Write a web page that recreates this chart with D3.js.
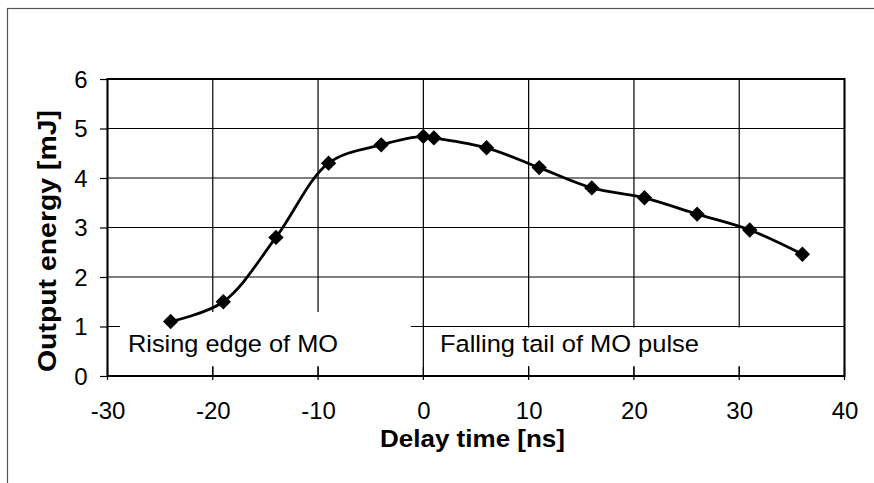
<!DOCTYPE html>
<html>
<head>
<meta charset="utf-8">
<script src="https://cdn.jsdelivr.net/npm/d3@7"></script>
<style>
  html, body { margin: 0; padding: 0; background: #fff; }
  svg { display: block; }
  text { font-family: "Liberation Sans", Arial, sans-serif; fill: #000; }
</style>
</head>
<body>
<svg id="chart" width="874" height="483"></svg>
<script>
// ---- data ----
const delayTimes = [-24, -19, -14, -9, -4, 0, 1, 6, 11, 16, 21, 26, 31, 36];
const outputEnergy = [1.10, 1.50, 2.80, 4.30, 4.67, 4.84, 4.81, 4.61, 4.21, 3.80, 3.60, 3.27, 2.95, 2.46];
const xTicks = [-30, -20, -10, 0, 10, 20, 30, 40];
const yTicks = [0, 1, 2, 3, 4, 5, 6];
const xTitle = "Delay time [ns]";
const yTitle = "Output energy [mJ]";
const annotations = ["Rising edge of MO", "Falling tail of MO pulse"];

// ---- layout ----
const svg = d3.select("#chart");
const L = 107.5, R = 844.5, T = 79, B = 376;
const x = d3.scaleLinear().domain([-30, 40]).range([L, R]);
const y = d3.scaleLinear().domain([0, 6]).range([B, T]);

// outer frame
svg.append("rect").attr("x", 7.5).attr("y", 8.5).attr("width", 900).attr("height", 500)
  .attr("fill", "none").attr("stroke", "#555").attr("stroke-width", 1.2);

// gridlines
const g = svg.append("g");
g.selectAll("line.hg").data(yTicks).join("line")
  .attr("x1", L).attr("x2", R).attr("y1", d => y(d)).attr("y2", d => y(d))
  .attr("stroke", "#000").attr("stroke-width", 1.2);
g.selectAll("line.vg").data(xTicks).join("line")
  .attr("x1", d => x(d)).attr("x2", d => x(d)).attr("y1", T).attr("y2", B)
  .attr("stroke", "#000").attr("stroke-width", 1.2);

// white annotation boxes covering gridlines
svg.append("rect").attr("x", 120).attr("y", 312).attr("width", x(0) - 12.5 - 120).attr("height", 54)
  .attr("fill", "#fff");
svg.append("rect").attr("x", x(0) + 1).attr("y", y(1) + 1).attr("width", R - 1 - (x(0) + 1)).attr("height", 366 - y(1) - 1)
  .attr("fill", "#fff");

// axes with D3
const fmt = d => String(d);
const xAxis = d3.axisBottom(x).tickValues(xTicks).tickSize(0).tickFormat(fmt);
const yAxis = d3.axisLeft(y).tickValues(yTicks).tickSize(7.5).tickFormat(fmt);

const gx = svg.append("g").attr("transform", `translate(0,${B})`).call(xAxis);
gx.select(".domain").remove();
gx.selectAll(".tick text").attr("font-size", 24).attr("dy", null).attr("y", 43)
  .attr("font-family", "Liberation Sans, Arial, sans-serif").attr("fill", "#000");
// crossing ticks for x
svg.append("g").selectAll("line").data(xTicks).join("line")
  .attr("x1", d => x(d)).attr("x2", d => x(d)).attr("y1", B - 9).attr("y2", B + 4)
  .attr("stroke", "#000").attr("stroke-width", 1.2);

const gy = svg.append("g").attr("transform", `translate(${L},0)`).call(yAxis);
gy.select(".domain").remove();
gy.selectAll(".tick line").attr("stroke", "#000").attr("stroke-width", 1.2);
gy.selectAll(".tick text").attr("font-size", 24).attr("x", -20).attr("dy", "0.35em")
  .attr("font-family", "Liberation Sans, Arial, sans-serif").attr("fill", "#000");

// plot border
svg.append("rect").attr("x", L).attr("y", T).attr("width", R - L).attr("height", B - T)
  .attr("fill", "none").attr("stroke", "#000").attr("stroke-width", 2);

// data line
const pts = delayTimes.map((t, i) => [t, outputEnergy[i]]);
const line = d3.line().x(d => x(d[0])).y(d => y(d[1])).curve(d3.curveCatmullRom.alpha(0.5));
svg.append("path").datum(pts).attr("d", line)
  .attr("fill", "none").attr("stroke", "#000").attr("stroke-width", 2.8);

// diamond markers
const sym = d3.symbol().type(d3.symbolSquare).size(118);
svg.append("g").selectAll("path").data(pts).join("path")
  .attr("d", sym)
  .attr("transform", d => `translate(${x(d[0])},${y(d[1])}) rotate(45)`)
  .attr("fill", "#000");

// annotations
svg.append("text").attr("x", 128).attr("y", 352).attr("font-size", 24.5)
  .attr("textLength", 210).attr("lengthAdjust", "spacingAndGlyphs").text(annotations[0]);
svg.append("text").attr("x", 440).attr("y", 352).attr("font-size", 24.5)
  .attr("textLength", 259).attr("lengthAdjust", "spacingAndGlyphs").text(annotations[1]);

// axis titles
svg.append("text").attr("x", 472.5 - 92.5).attr("y", 447)
  .attr("font-size", 24.5).attr("font-weight", "bold")
  .attr("textLength", 185).attr("lengthAdjust", "spacingAndGlyphs").text(xTitle);
svg.append("text").attr("transform", "translate(56,372) rotate(-90)")
  .attr("font-size", 26).attr("font-weight", "bold")
  .attr("textLength", 262).attr("lengthAdjust", "spacingAndGlyphs").text(yTitle);
</script>
</body>
</html>
